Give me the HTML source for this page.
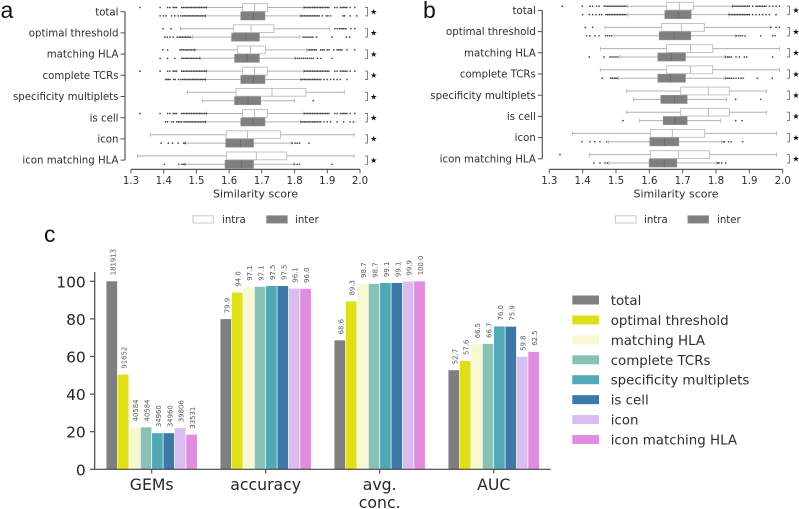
<!DOCTYPE html>
<html lang="en">
<head>
<meta charset="utf-8">
<title>Similarity score and metrics chart</title>
<style>
html,body{margin:0;padding:0;background:#fff;width:799px;height:509px;overflow:hidden}
svg{display:block;filter:blur(0.35px)}
text{font-family:"DejaVu Sans","Liberation Sans",sans-serif;fill:#2e2e2e}
</style>
</head>
<body>
<svg id="figure" xmlns="http://www.w3.org/2000/svg" width="799" height="509" viewBox="0 0 799 509"></svg>
<script>
const categories = ["total","optimal threshold","matching HLA","complete TCRs","specificity multiplets","is cell","icon","icon matching HLA"];
const boxTicks = ["1.3","1.4","1.5","1.6","1.7","1.8","1.9","2.0"];

// Panel a box statistics: one entry per category
const aIntraLow = [1.531,1.451,1.495,1.531,1.472,1.531,1.359,1.32];
const aIntraQ1 = [1.641,1.613,1.625,1.641,1.621,1.641,1.591,1.592];
const aIntraMed = [1.678,1.667,1.665,1.678,1.731,1.678,1.656,1.683];
const aIntraQ3 = [1.717,1.737,1.711,1.717,1.835,1.717,1.757,1.776];
const aIntraHigh = [1.828,1.907,1.836,1.828,1.952,1.828,1.982,1.982];
const aInterLow = [1.528,1.488,1.511,1.528,1.518,1.529,1.467,1.467];
const aInterQ1 = [1.636,1.608,1.617,1.636,1.617,1.636,1.59,1.588];
const aInterMed = [1.674,1.651,1.655,1.674,1.658,1.673,1.635,1.637];
const aInterQ3 = [1.709,1.692,1.692,1.709,1.696,1.709,1.674,1.674];
const aInterHigh = [1.818,1.816,1.801,1.818,1.8,1.818,1.79,1.797];

// Panel a outliers
const aTotalIntraOut = [1.327,1.389,1.412,1.419,1.429,1.434,1.439,1.455,1.46,1.465,1.47,1.475,1.48,1.485,1.49,1.495,1.5,1.505,1.51,1.515,1.52,1.525,1.53,1.83,1.835,1.84,1.845,1.85,1.855,1.86,1.865,1.87,1.875,1.88,1.885,1.89,1.895,1.9,1.905,1.923,1.93,1.94,1.945,1.95,1.955,1.96,1.97,1.984];
const aTotalInterOut = [1.389,1.399,1.407,1.424,1.434,1.444,1.452,1.458,1.463,1.468,1.473,1.478,1.483,1.488,1.493,1.498,1.503,1.508,1.513,1.518,1.523,1.527,1.82,1.825,1.83,1.835,1.84,1.845,1.85,1.855,1.86,1.865,1.87,1.875,1.885,1.897,1.902,1.91,1.948,1.953,1.97,1.99];
const aOptimalIntraOut = [1.398,1.422,1.923,1.93,1.937,1.942,1.947,1.951,1.957,1.972,1.984];
const aOptimalInterOut = [1.404,1.411,1.419,1.429,1.441,1.447,1.452,1.457,1.462,1.467,1.472,1.477,1.482,1.826,1.832,1.838,1.844,1.85,1.856,1.867,1.914,1.958,1.968];
const aMatchingIntraOut = [1.397,1.412,1.45,1.455,1.46,1.465,1.47,1.475,1.48,1.485,1.49,1.495,1.841,1.846,1.851,1.856,1.861,1.866,1.88,1.885,1.89,1.9,1.905,1.92,1.93,1.935,1.94,1.945,1.96,1.984];
const aMatchingInterOut = [1.389,1.412,1.434,1.455,1.46,1.465,1.47,1.475,1.48,1.485,1.49,1.495,1.5,1.505,1.51,1.803,1.809,1.815,1.821,1.827,1.833,1.839,1.845,1.851,1.857,1.87,1.88,1.914];
const aCompleteInterOut = [1.406,1.41,1.415,1.42,1.43,1.435,1.445,1.452,1.458,1.463,1.468,1.473,1.478,1.483,1.488,1.493,1.498,1.503,1.508,1.513,1.518,1.523,1.527,1.82,1.825,1.83,1.835,1.84,1.845,1.85,1.855,1.86,1.865,1.87,1.875,1.88,1.89,1.9,1.91,1.92,1.93,1.94,1.96];
const aSpecInterOut = [1.857];
const aCellInterOut = [1.406,1.412,1.424,1.43,1.44,1.445,1.45,1.455,1.462,1.467,1.472,1.477,1.482,1.487,1.492,1.497,1.502,1.507,1.512,1.517,1.522,1.527,1.82,1.825,1.83,1.835,1.84,1.845,1.85,1.855,1.86,1.865,1.87,1.875,1.88,1.89,1.9,1.91,1.93,1.95,1.97,1.98];
const aIconInterOut = [1.392,1.414,1.427,1.444,1.461,1.465,1.793,1.802,1.808,1.815,1.844];
const aIconMatchInterOut = [1.402,1.446,1.456,1.461,1.464,1.8,1.808,1.815,1.914];
const aIntraOutliers = [aTotalIntraOut,aOptimalIntraOut,aMatchingIntraOut,aTotalIntraOut,[],aTotalIntraOut,[],[]];
const aInterOutliers = [aTotalInterOut,aOptimalInterOut,aMatchingInterOut,aCompleteInterOut,aSpecInterOut,aCellInterOut,aIconInterOut,aIconMatchInterOut];

// Panel b box statistics
const bIntraLow = [1.535,1.467,1.453,1.453,1.532,1.532,1.369,1.42];
const bIntraQ1 = [1.652,1.637,1.652,1.652,1.694,1.694,1.603,1.603];
const bIntraMed = [1.69,1.696,1.723,1.723,1.777,1.777,1.669,1.687];
const bIntraQ3 = [1.732,1.765,1.79,1.79,1.84,1.84,1.766,1.781];
const bIntraHigh = [1.849,1.962,1.99,1.99,1.952,1.952,1.982,1.982];
const bInterLow = [1.535,1.494,1.512,1.507,1.552,1.57,1.477,1.479];
const bInterQ1 = [1.647,1.63,1.626,1.626,1.635,1.642,1.602,1.6];
const bInterMed = [1.687,1.674,1.666,1.664,1.676,1.678,1.645,1.645];
const bInterQ3 = [1.725,1.724,1.708,1.708,1.713,1.713,1.688,1.682];
const bInterHigh = [1.837,1.859,1.827,1.827,1.832,1.814,1.817,1.802];

// Panel b outliers
const bTotalIntraOut = [1.339,1.399,1.422,1.43,1.442,1.45,1.465,1.47,1.475,1.48,1.485,1.49,1.495,1.5,1.505,1.51,1.515,1.52,1.525,1.53,1.85,1.855,1.86,1.865,1.87,1.875,1.88,1.885,1.89,1.895,1.9,1.91,1.92,1.925,1.93,1.935,1.94,1.945,1.95,1.96,1.97,1.98,1.99];
const bTotalInterOut = [1.4,1.42,1.43,1.44,1.45,1.457,1.47,1.475,1.48,1.485,1.49,1.495,1.5,1.505,1.51,1.515,1.52,1.525,1.53,1.84,1.845,1.85,1.855,1.86,1.865,1.87,1.875,1.88,1.885,1.89,1.895,1.9,1.91,1.92,1.93,1.94,1.95,1.96,1.98];
const bOptimalIntraOut = [1.408,1.43,1.965,1.98,1.99];
const bOptimalInterOut = [1.412,1.422,1.437,1.449,1.469,1.475,1.481,1.487,1.861,1.867,1.873,1.879,1.887,1.934,1.97,1.977];
const bMatchingInterOut = [1.42,1.464,1.482,1.488,1.494,1.5,1.506,1.829,1.835,1.84,1.846,1.86,1.87,1.885,1.892,1.97];
const bCompleteInterOut = [1.459,1.484,1.489,1.494,1.499,1.503,1.829,1.835,1.84,1.846,1.852,1.86,1.868,1.875,1.882,1.924,1.969];
const bSpecInterOut = [1.859,1.934];
const bCellInterOut = [1.521,1.859,1.878];
const bIconInterOut = [1.398,1.422,1.437,1.452,1.472,1.822,1.825,1.837,1.845,1.88];
const bIconMatchIntraOut = [1.332];
const bIconMatchInterOut = [1.434,1.452,1.467,1.474,1.805,1.809,1.817,1.829];
const bIntraOutliers = [bTotalIntraOut,bOptimalIntraOut,[],[],[],[],[],bIconMatchIntraOut];
const bInterOutliers = [bTotalInterOut,bOptimalInterOut,bMatchingInterOut,bCompleteInterOut,bSpecInterOut,bCellInterOut,bIconInterOut,bIconMatchInterOut];

// Panel c bars
const metricNames = [["GEMs"],["accuracy"],["avg.","conc."],["AUC"]];
const gemsCounts = [181913,91652,40584,40584,34960,34960,39806,33531];
const accuracyValues = [79.9,94.0,97.1,97.1,97.5,97.5,96.1,96.0];
const avgConcValues = [68.6,89.3,98.7,98.7,99.1,99.1,99.9,100.0];
const aucValues = [52.7,57.6,66.5,66.7,76.0,75.9,59.8,62.5];
const barTicks = [0,20,40,60,80,100];
const categoryColors = ["#7f7f7f","#e0e01a","#f7f7d0","#89c2b5","#52a8b6","#3c79a8","#d9bdf1","#e08de0"];

const NS = "http://www.w3.org/2000/svg";
const fig = document.getElementById("figure");

function mk(tag, parent, props) {
  const el = document.createElementNS(NS, tag);
  for (const k in props) el.setAttribute(k, props[k]);
  parent.appendChild(el);
  return el;
}
function txt(parent, content, props) {
  const el = mk("text", parent, props);
  el.textContent = content;
  return el;
}

function drawBoxPanel(key, x0, x1, spineX, yFirst, stats, bracketX, starX) {
  const xOf = v => x0 + (v - 1.3) / 0.7 * (x1 - x0);
  const yOf = i => yFirst + i * 21.2;
  const axisY = 169.4;
  const panel = mk("g", fig, {});
  
  

  const spine = mk("line", panel, {x1: spineX, x2: spineX, y1: yOf(0), y2: yOf(7), stroke: "#555", "stroke-width": 1.2});
  
  

  const xAxis = mk("line", panel, {x1: x0, x2: x1, y1: axisY, y2: axisY, stroke: "#555", "stroke-width": 1.2});
  
  

  boxTicks.forEach(t => {
    const tx = xOf(parseFloat(t));
    const tick = mk("line", panel, {x1: tx, x2: tx, y1: axisY, y2: axisY + 4, stroke: "#555", "stroke-width": 1});
    
    
    const lab = txt(panel, t, {x: tx, y: 184, "text-anchor": "middle", "font-size": 10.2});
    
    
  });

  const title = txt(panel, "Similarity score", {x: (x0 + x1) / 2 + 10, y: 197.3, "text-anchor": "middle", "font-size": 11});
  
  

  categories.forEach((c, i) => {
    const y = yOf(i);
    const tick = mk("line", panel, {x1: spineX - 4.5, x2: spineX, y1: y, y2: y, stroke: "#555", "stroke-width": 1});
    
    
    const lab = txt(panel, c, {x: spineX - 6.5, y: y + 3.6, "text-anchor": "end", "font-size": 10.2});
    
    

    [[stats.intra, -4.2, "#fff", "#bdbdbd", "intra"], [stats.inter, 4.2, "#7f7f7f", "#8a8a8a", "inter"]].forEach(([s, dy, fill, edge, kind]) => {
      const cy = y + dy;
      const g = mk("g", panel, {});
      
      
      mk("line", g, {x1: xOf(s.low[i]), x2: xOf(s.high[i]), y1: cy, y2: cy, stroke: "#b0b0b0", "stroke-width": 1});
      mk("line", g, {x1: xOf(s.low[i]), x2: xOf(s.low[i]), y1: cy - 2, y2: cy + 2, stroke: "#b0b0b0", "stroke-width": 0.8});
      mk("line", g, {x1: xOf(s.high[i]), x2: xOf(s.high[i]), y1: cy - 2, y2: cy + 2, stroke: "#b0b0b0", "stroke-width": 0.8});
      mk("rect", g, {x: xOf(s.q1[i]), y: cy - 3.9, width: xOf(s.q3[i]) - xOf(s.q1[i]), height: 7.8, fill: fill, stroke: edge, "stroke-width": 0.9});
      mk("line", g, {x1: xOf(s.med[i]), x2: xOf(s.med[i]), y1: cy - 3.9, y2: cy + 3.9, stroke: kind === "intra" ? "#b5b5b5" : "#6a6a6a", "stroke-width": 0.9});
      s.out[i].forEach(v => {
        mk("circle", g, {cx: xOf(v), cy: cy, r: 0.85, fill: "#444"});
      });
    });

    const bracket = mk("path", panel, {d: "M" + (bracketX - 2.5) + " " + (y - 4.2) + "H" + bracketX + "V" + (y + 4.2) + "H" + (bracketX - 2.5), fill: "none", stroke: "#777", "stroke-width": 0.9});
    
    
    const star = txt(panel, "★", {x: starX, y: y + 2.8, "text-anchor": "middle", "font-size": 8, style: "fill:#111"});
    
    
  });
}

drawBoxPanel("a", 131, 360, 125, 11.7, {
  intra: {low: aIntraLow, q1: aIntraQ1, med: aIntraMed, q3: aIntraQ3, high: aIntraHigh, out: aIntraOutliers},
  inter: {low: aInterLow, q1: aInterQ1, med: aInterMed, q3: aInterQ3, high: aInterHigh, out: aInterOutliers}
}, 367.5, 373.7);
drawBoxPanel("b", 549.3, 782.7, 542.3, 10.4, {
  intra: {low: bIntraLow, q1: bIntraQ1, med: bIntraMed, q3: bIntraQ3, high: bIntraHigh, out: bIntraOutliers},
  inter: {low: bInterLow, q1: bInterQ1, med: bInterMed, q3: bInterQ3, high: bInterHigh, out: bInterOutliers}
}, 789.5, 796);

function drawBoxLegend(key, intraX, intraTextX, interX, interTextX) {
  const g = mk("g", fig, {});
  
  
  const p1 = mk("rect", g, {x: intraX, y: 215.8, width: 20.5, height: 7.2, fill: "#fff", stroke: "#c4c4c4", "stroke-width": 0.9});
  
  
  const t1 = txt(g, "intra", {x: intraTextX, y: 223, "font-size": 10.2});
  
  
  const p2 = mk("rect", g, {x: interX, y: 215.8, width: 20.5, height: 7.2, fill: "#7f7f7f", stroke: "#8a8a8a", "stroke-width": 0.9});
  
  
  const t2 = txt(g, "inter", {x: interTextX, y: 223, "font-size": 10.2});
  
  
}
drawBoxLegend("a", 193, 222, 266.7, 295);
drawBoxLegend("b", 615.5, 644, 688, 717);

// Panel c
const yBar = v => 469.3 - v * 1.88;
const groupX = i => 151.7 + i * 114;
const BAR_STEP = 11.4;
const barPanel = mk("g", fig, {});



const gemsShare = gemsCounts.map(c => c / gemsCounts[0] * 100);
const barSeries = [gemsShare, accuracyValues, avgConcValues, aucValues];
const barLabels = [gemsCounts.map(String), accuracyValues.map(v => v.toFixed(1)), avgConcValues.map(v => v.toFixed(1)), aucValues.map(v => v.toFixed(1))];

barSeries.forEach((vals, g) => {
  vals.forEach((v, j) => {
    const bx = groupX(g) + (j - 4) * BAR_STEP;
    const bar = mk("rect", barPanel, {x: bx + 0.35, y: yBar(v), width: BAR_STEP - 0.7, height: yBar(0) - yBar(v), fill: categoryColors[j]});
    
    
    const cx = bx + BAR_STEP / 2 + 3.5;
    const cy = yBar(v) - 6;
    const lab = txt(barPanel, barLabels[g][j], {x: cx, y: cy, "font-size": 6.9, transform: "rotate(-90 " + cx + " " + cy + ")", style: "fill:#555"});
    
    
  });
});

const ySpine = mk("line", barPanel, {x1: 94.7, x2: 94.7, y1: 272, y2: 469.3, stroke: "#444", "stroke-width": 1.2});


const xSpine = mk("line", barPanel, {x1: 94.1, x2: 550.7, y1: 469.3, y2: 469.3, stroke: "#444", "stroke-width": 1.2});



barTicks.forEach(t => {
  const y = yBar(t);
  const tick = mk("line", barPanel, {x1: 90, x2: 94.7, y1: y, y2: y, stroke: "#444", "stroke-width": 1.1});
  
  
  const lab = txt(barPanel, String(t), {x: 85.8, y: y + 6, "text-anchor": "end", "font-size": 15.5, style: "fill:#262626"});
  
  
});

metricNames.forEach((lines, g) => {
  const gx = groupX(g);
  const tick = mk("line", barPanel, {x1: gx, x2: gx, y1: 469.3, y2: 473.5, stroke: "#444", "stroke-width": 1.1});
  
  
  lines.forEach((line, k) => {
    const lab = txt(barPanel, line, {x: gx, y: 490 + k * 18, "text-anchor": "middle", "font-size": 15.7, style: "fill:#262626"});
    
    
  });
});

const barLegend = mk("g", fig, {});


categories.forEach((c, i) => {
  const y = 300 + i * 19.93;
  const sw = mk("rect", barLegend, {x: 572.3, y: y - 4.5, width: 26.7, height: 9, fill: categoryColors[i]});
  
  
  const t = txt(barLegend, c, {x: 610.7, y: y + 5, "font-size": 13.4});
  
  
});

const letterA = txt(fig, "a", {x: 0.5, y: 18, "font-size": 23, style: "font-family:'Liberation Sans',sans-serif;fill:#111"});


const letterB = txt(fig, "b", {x: 423, y: 18, "font-size": 23, style: "font-family:'Liberation Sans',sans-serif;fill:#111"});


const letterC = txt(fig, "c", {x: 44, y: 242, "font-size": 23, style: "font-family:'Liberation Sans',sans-serif;fill:#111"});


</script>
</body>
</html>
